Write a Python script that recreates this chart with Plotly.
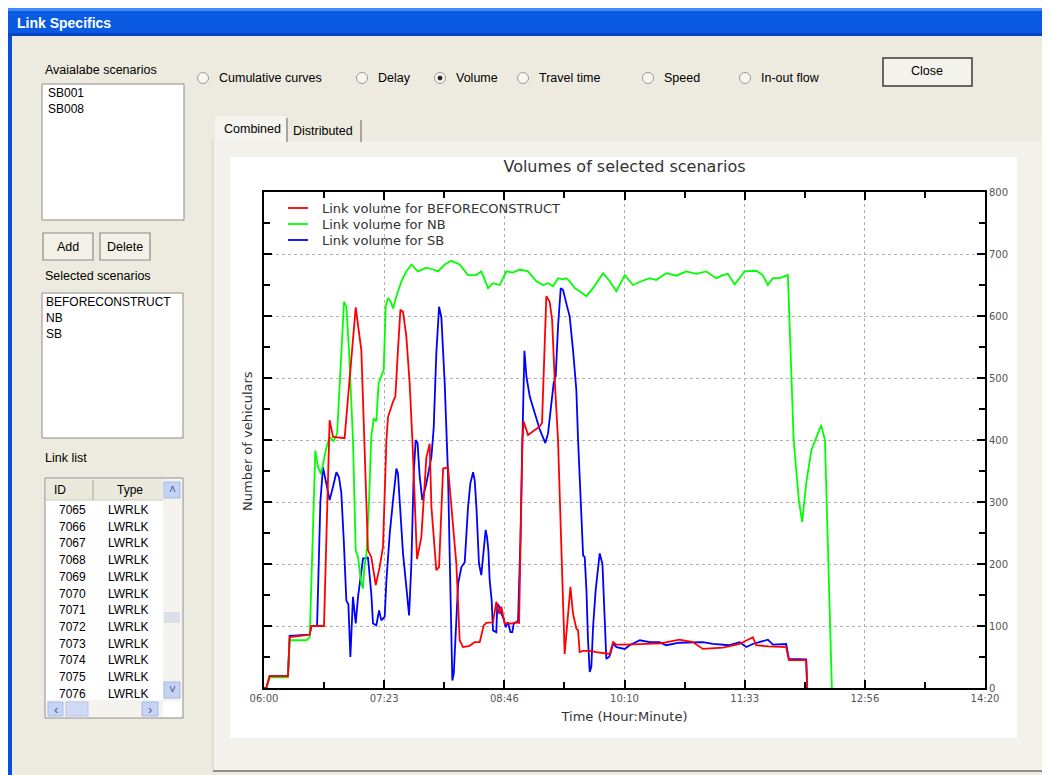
import plotly.graph_objects as go

# ---------------- data ----------------
tick_minutes = [0, 83.333, 166.667, 250, 333.333, 416.667, 500]   # minutes after 06:00
tick_labels = ["06:00", "07:23", "08:46", "10:10", "11:33", "12:56", "14:20"]
minor_minutes = [41.667, 125, 208.333, 291.667, 375, 458.333]
y_ticks = [0, 100, 200, 300, 400, 500, 600, 700, 800]
y_minor = [50, 150, 250, 350, 450, 550, 650, 750]

scenarios = ["BEFORECONSTRUCT", "NB", "SB"]
colors = ["#ff0000", "#00ff00", "#0000ff"]
available = ["SB001", "SB008"]
link_ids = [7065, 7066, 7067, 7068, 7069, 7070, 7071, 7072, 7073, 7074, 7075, 7076]
link_types = ["LWRLK"] * 12
radio_labels = ["Cumulative curves", "Delay", "Volume", "Travel time", "Speed", "In-out flow"]
selected_radio = "Volume"

# BEFORECONSTRUCT (red)
t_before = [0, 1.6, 3.9, 16.6, 17.8, 31.7, 32.8, 41.6, 45.5, 47.9, 55.9, 63.6, 67.5, 69.8, 72.1,
            74.4, 77.5, 80.2, 82.5, 84.9, 86.0, 89.5, 91.1, 92.9, 94.6, 96.4, 98.7, 101.0, 102.9,
            106.1, 109.1, 112.6, 114.9, 116.1, 119.5, 121.4, 124.2, 127.6, 129.9, 133.4, 135.7,
            138.0, 142.6, 146.1, 149.6, 152.4, 154.2, 158.8, 161.1, 163.0, 164.6, 166.9, 171.6,
            175.0, 176.9, 179.2, 180.1, 183.1, 186.6, 191.2, 192.8, 195.8, 198.1, 199.8, 201.6,
            203.9, 208.5, 212.5, 214.3, 216.6, 217.8, 218.9, 221.3, 225.9, 230.5, 239.8, 242.1,
            244.4, 250.2, 260.4, 275.0, 288.1, 297.4, 304.3, 318.2, 329.8, 339.0, 341.3, 350.0,
            362.1, 364.0, 376.0, 376.7]
v_before = [0, 0, 19, 19, 82, 86, 100, 100, 432, 405, 403, 614, 545, 400, 222,
            211, 166, 195, 227, 400, 437, 462, 470, 545, 610, 607, 567, 492, 400,
            208, 243, 372, 394, 292, 190, 195, 354, 356, 292, 200, 77,
            66, 68, 74, 74, 101, 105, 106, 139, 120, 131, 104, 104,
            106, 105, 400, 430, 408, 414, 422, 428, 632, 623, 594, 497,
            400, 55, 163, 120, 96, 93, 58, 60, 60, 58, 55, 74,
            70, 70, 71, 72, 78, 74, 63, 65, 71, 82, 69, 67,
            66, 45, 45, 0]

# NB (green)
t_nb = [0, 1.6, 3.9, 16.6, 17.8, 29.5, 31.7, 35.6, 37.5, 39.5, 43.0, 45.5, 48.2, 50.7, 55.5,
        57.1, 59.0, 60.6, 61.7, 63.6, 65.2, 67.3, 68.6, 69.6, 71.0, 72.8, 74.4, 76.1, 77.9,
        79.5, 81.4, 83.0, 84.4, 86.0, 87.9, 89.5, 91.8, 95.3, 98.7, 102.2, 106.8, 112.6, 117.2,
        120.7, 125.3, 129.9, 135.7, 141.5, 147.3, 150.7, 155.4, 158.8, 163.5, 168.1, 172.7,
        177.3, 183.1, 185.4, 188.9, 193.5, 197.0, 200.5, 203.9, 207.4, 209.7, 212.0, 215.5,
        218.9, 223.6, 228.2, 235.1, 239.8, 244.4, 250.2, 255.9, 261.7, 267.5, 272.0, 278.9,
        285.8, 292.8, 299.7, 306.6, 313.6, 318.2, 321.7, 326.3, 329.8, 333.2, 341.3, 345.9,
        349.4, 352.9, 357.5, 363.3, 367.3, 370.9, 373.2, 376.0, 379.5, 386.4, 389.0, 393.8]
v_nb = [0, 0, 17, 17, 77, 77, 82, 383, 356, 345, 385, 405, 398, 410, 623,
        615, 543, 459, 400, 222, 211, 172, 160, 195, 215, 300, 405, 435, 430,
        492, 502, 513, 616, 629, 623, 612, 632, 656, 672, 683, 672, 678, 675,
        672, 683, 689, 683, 666, 666, 672, 645, 653, 650, 672, 670,
        675, 672, 666, 656, 650, 653, 648, 661, 659, 661, 656, 645,
        640, 632, 645, 669, 656, 640, 666, 650, 656, 661, 658, 669,
        665, 672, 668, 672, 661, 666, 668, 651, 661, 672, 673, 666,
        650, 661, 661, 666, 400, 303, 268, 330, 383, 424, 400, 0]

# SB (blue)
t_sb = [0, 1.6, 3.9, 16.6, 17.8, 31.7, 32.8, 36.8, 39.1, 40.9, 43.2, 45.5, 47.9, 50.2, 52.0,
        53.6, 55.3, 57.1, 58.5, 59.9, 61.7, 63.6, 65.2, 66.8, 68.7, 71.0, 72.1, 74.4, 75.6,
        77.9, 79.8, 81.4, 83.7, 84.9, 87.2, 89.5, 91.8, 92.9, 94.1, 96.4, 98.7, 100.6, 102.2,
        103.8, 105.2, 106.5, 108.0, 109.8, 112.6, 116.1, 117.7, 119.5, 121.4, 123.0, 125.3,
        126.5, 127.6, 128.8, 130.0, 130.6, 131.6, 132.9, 134.6, 136.9, 139.2, 141.5, 143.1,
        145.0, 146.1, 147.3, 149.1, 150.7, 152.4, 153.7, 154.7, 155.6, 156.5, 157.9, 158.8,
        161.1, 161.8, 163.5, 164.6, 166.2, 167.6, 169.2, 170.9, 172.2, 173.2, 175.0, 176.2,
        177.8, 179.2, 180.6, 182.0, 184.3, 187.7, 191.2, 195.1, 197.0, 199.3, 200.9, 202.3,
        203.9, 205.8, 207.4, 209.7, 212.0, 214.3, 216.6, 217.8, 220.1, 221.3, 222.4, 223.6,
        224.7, 225.9, 227.0, 228.2, 230.0, 231.7, 232.8, 234.7, 236.3, 237.4, 239.3, 240.2,
        242.1, 244.4, 250.2, 253.6, 260.6, 267.5, 274.3, 278.9, 288.1, 304.3, 311.3, 322.8,
        329.8, 334.4, 339.0, 349.4, 352.9, 362.1, 364.0, 376.0, 376.7]
v_sb = [0, 0, 19, 19, 84, 86, 100, 100, 300, 356, 330, 303, 325, 348, 340,
        315, 239, 141, 135, 50, 147, 104, 147, 179, 209, 209, 211, 152, 104,
        101, 125, 109, 115, 174, 249, 303, 354, 346, 297, 217, 163, 117, 200,
        345, 400, 395, 340, 303, 330, 373, 420, 540, 615, 598, 492,
        400, 346, 211, 77, 12, 23, 88, 168, 195, 203, 292, 330,
        348, 335, 292, 200, 182, 222, 255, 243, 222, 174, 141, 93,
        90, 136, 130, 120, 112, 98, 106, 90, 90, 104, 106, 109,
        238, 400, 544, 502, 470, 444, 417, 395, 411, 459, 492, 503,
        583, 645, 642, 620, 599, 545, 481, 400, 292, 214, 211, 158,
        77, 26, 34, 98, 158, 200, 217, 200, 98, 47, 50, 55,
        72, 66, 63, 69, 77, 74, 74, 69, 73, 74, 71, 69,
        74, 66, 71, 78, 70, 71, 47, 46, 0]

series_t = [t_before, t_nb, t_sb]
series_v = [v_before, v_nb, v_sb]

# ---------------- geometry helpers (screen pixel -> paper) ----------------
# the page has an 8px body margin, so the figure's origin sits at screen (8, 8)
OFF = 8
W, H = 1042, 767
L, R, T, B = 264 - OFF, 985 - OFF, 192 - OFF, 688 - OFF     # plot area in figure pixels
UI = "Liberation Sans, Arial, sans-serif"
CH = "DejaVu Sans, Verdana, sans-serif"


def fx(x):
    return (x - OFF - L) / (R - L)


def fy(y):
    return (B - (y - OFF)) / (B - T)


shapes = []
annots = []


def rect(x0, y0, x1, y1, fill, line=None, lw=0):
    shapes.append(dict(type="rect", xref="paper", yref="paper", x0=fx(x0), x1=fx(x1),
                       y0=fy(y1), y1=fy(y0), fillcolor=fill,
                       line=dict(color=line if line else fill, width=lw), layer="below"))


def seg(x0, y0, x1, y1, color, w=1):
    shapes.append(dict(type="line", xref="paper", yref="paper", x0=fx(x0), x1=fx(x1),
                       y0=fy(y0), y1=fy(y1), line=dict(color=color, width=w), layer="below"))


def circ(cx, cy, r, fill, line, lw=1):
    shapes.append(dict(type="circle", xref="paper", yref="paper", x0=fx(cx - r), x1=fx(cx + r),
                       y0=fy(cy + r), y1=fy(cy - r), fillcolor=fill,
                       line=dict(color=line, width=lw), layer="below"))


def txt(x, y, s, size=12.5, color="#000000", xa="left", font=UI, angle=0):
    annots.append(dict(x=fx(x), y=fy(y), xref="paper", yref="paper", text=s, showarrow=False,
                       xanchor=xa, yanchor="middle", textangle=angle,
                       font=dict(family=font, size=size, color=color)))


SW, SH = 1050, 775   # screen size

# ---------------- window chrome ----------------
rect(8, 8, SW, 36, "#0a5be2")
rect(8, 8, SW, 11, "#3d8af7")
rect(8, 33, SW, 36, "#0844c8")
rect(8, 36, 12, SH, "#0a4fd8")
rect(1043, 12, SW, 31, "#e2582f")
txt(15, 23, "<b>Link Specifics</b>", size=14, color="#ffffff")

# left panel
txt(43, 70, "Avaialabe scenarios")
rect(42, 84, 184, 220, "#ffffff", "#8c8c8c", 1)
for i, s in enumerate(available):
    txt(46, 93 + 16 * i, s, size=12)

rect(43, 233, 93, 260, "#f3f1e8", "#8a8a8a", 1.2)
txt(68, 247, "Add", xa="center")
rect(100, 233, 150, 260, "#f3f1e8", "#8a8a8a", 1.2)
txt(125, 247, "Delete", xa="center")

txt(43, 276, "Selected scenarios")
rect(42, 293, 183, 438, "#ffffff", "#8c8c8c", 1)
for i, s in enumerate(scenarios):
    txt(44, 302 + 16 * i, s, size=12)

txt(43, 458, "Link list")
rect(45, 478, 183, 718, "#ffffff", "#8c8c8c", 1)
rect(46, 479, 163, 500, "#ebe9dc")
seg(93, 480, 93, 500, "#a0a0a0", 1)
seg(46, 500, 163, 500, "#c8c8c8", 1)
txt(52, 490, "ID", size=12)
txt(130, 490, "Type", size=12, xa="center")
for i, (lid, lt) in enumerate(zip(link_ids, link_types)):
    txt(72, 510 + 16.7 * i, str(lid), size=12, xa="center")
    txt(128, 510 + 16.7 * i, lt, size=12, xa="center")
# scrollbars
rect(163, 479, 182, 701, "#f4f3ee")
rect(164, 482, 180, 498, "#c5d4f6", "#a9b9e2", 1)
txt(172, 490, "˄", size=12, color="#4d6185", xa="center")
rect(164, 612, 180, 623, "#dcdfe8")
rect(164, 682, 180, 698, "#c5d4f6", "#a9b9e2", 1)
txt(172, 690, "˅", size=12, color="#4d6185", xa="center")
rect(46, 700, 163, 717, "#f4f3ee")
rect(48, 702, 63, 716, "#c5d4f6", "#a9b9e2", 1)
txt(55.5, 709, "‹", size=13, color="#4d6185", xa="center")
rect(66, 702, 88, 716, "#cfdaf5", "#b5c3e6", 1)
rect(142, 702, 158, 716, "#c5d4f6", "#a9b9e2", 1)
txt(150, 709, "›", size=13, color="#4d6185", xa="center")

# radio buttons
radio_x = [203, 362, 440, 523, 648, 745]
for rx, lab in zip(radio_x, radio_labels):
    circ(rx, 78, 5.5, "#f8f7f1", "#9a9a9a", 1)
    if lab == selected_radio:
        circ(rx, 78, 2, "#222222", "#222222", 1)
    txt(rx + 14, 78, lab)

# close button
rect(883, 58, 972, 86, "#f3f2ec", "#3a3a3a", 1.5)
txt(927, 71, "Close", xa="center")

# tab control
rect(213, 141, 1045, 771, "#f3f2ea")
seg(213, 771, SW, 771, "#8e8e8e", 2)
seg(213, 141, 213, 771, "#cfcdc2", 1)
rect(215, 116, 286, 141, "#f5f4ee")
txt(222, 129, "Combined")
seg(287, 118, 287, 142, "#777777", 1.2)
txt(291, 131, "Distributed")
seg(361, 120, 361, 142, "#777777", 1.2)

# chart panel
rect(230, 157, 1017, 738, "#ffffff")

# ---------------- chart ----------------
fig = go.Figure()
order = [2, 1, 0]   # red drawn on top
for k in order:
    fig.add_trace(go.Scatter(x=series_t[k], y=series_v[k], mode="lines",
                             name="Link volume for " + scenarios[k],
                             line=dict(color=colors[k], width=1.8), showlegend=False))

# manual legend (matches the compact original spacing)
for i, s in enumerate(scenarios):
    ly = 208 + 16 * i
    shapes.append(dict(type="line", xref="paper", yref="paper", x0=fx(288), x1=fx(308),
                       y0=fy(ly), y1=fy(ly), line=dict(color=colors[i], width=1.8)))
    txt(320, ly, "Link volume for " + s, size=13, color="#333333", font=CH)

# y-axis title (left side, axis labels on right)
txt(247, 441, "Number of vehiculars", size=13, color="#333333", xa="center", font=CH, angle=-90)

axis_common = dict(ticks="inside", ticklen=8, tickwidth=2, tickcolor="#000000",
                   showline=True, linewidth=2, linecolor="#000000", mirror="ticks",
                   showgrid=True, gridcolor="#b0b0b0", griddash="dot", gridwidth=1.2,
                   zeroline=False, tickfont=dict(family=CH, size=10, color="#555555"))

fig.update_layout(
    width=W, height=H, autosize=False,
    margin=dict(l=L, r=W - R, t=T, b=H - B, pad=0),
    paper_bgcolor="#edebdf", plot_bgcolor="#ffffff",
    title=dict(text="Volumes of selected scenarios", x=0.5, xref="paper", xanchor="center",
               y=1 - (166 - OFF) / H, yref="container", yanchor="middle",
               font=dict(family=CH, size=16, color="#333333")),
    xaxis=dict(range=[0, 500], tickmode="array", tickvals=tick_minutes, ticktext=tick_labels,
               minor=dict(tickmode="array", tickvals=minor_minutes, ticks="inside", ticklen=6,
                          tickwidth=2, tickcolor="#000000", showgrid=False),
               title=dict(text="Time (Hour:Minute)", standoff=9,
                          font=dict(family=CH, size=13, color="#333333")),
               **axis_common),
    yaxis=dict(range=[0, 800], side="right", tickmode="array", tickvals=y_ticks,
               minor=dict(tickmode="array", tickvals=y_minor, ticks="inside", ticklen=6,
                          tickwidth=2, tickcolor="#000000", showgrid=False),
               **axis_common),
    shapes=shapes, annotations=annots, showlegend=False,
)

fig.write_html("out.html")
